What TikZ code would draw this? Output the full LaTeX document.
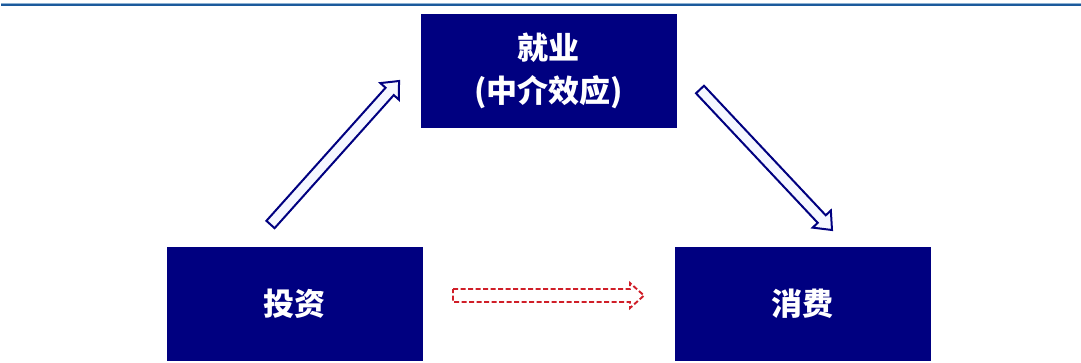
\documentclass[tikz,border=0pt]{standalone}
\usepackage{fontspec}
\newfontfamily\cjk{Noto Sans CJK SC}
\usetikzlibrary{calc}
\definecolor{navybox}{HTML}{000080}
\definecolor{arrowfill}{HTML}{F5F7FF}
\definecolor{dashred}{HTML}{D01E28}
\definecolor{topline}{HTML}{1C5A9C}
\definecolor{toplinelight}{HTML}{8DB2D4}
\newcommand\myblockarrow[6]{%
  \coordinate (hb) at ($(#3)!#6!(#2)$);
  \draw[#1] ($(#2)!#4!90:(#3)$) -- ($(hb)!#4!90:(#3)$) -- ($(hb)!#5!90:(#3)$) -- (#3)
    -- ($(hb)!#5!-90:(#3)$) -- ($(hb)!#4!-90:(#3)$) -- ($(#2)!#4!-90:(#3)$) -- cycle;
}
\begin{document}
\begin{tikzpicture}[x=1pt,y=-1pt,
  box/.style={fill=navybox, draw=none, minimum width=256pt, minimum height=114pt,
    inner sep=0pt, text=white, align=center,
    font=\cjk\bfseries\fontsize{31}{43}\selectfont},
  hollow/.style={draw=navybox, fill=arrowfill, line width=2pt, line join=miter},
  dashedarrow/.style={draw=dashred, fill=white, line width=1.9pt, dash pattern=on 5pt off 2.5pt, line join=miter}]
\useasboundingbox (0,0) rectangle (1081,362);
\fill[fill=toplinelight] (1,2.5) rectangle (1081,3.6);
\fill[fill=topline] (1,3.6) rectangle (1081,6.4);
\node[box] (job) at (548.5,71) {就业\\(中介效应)};
\node[box] (inv) at (294.5,304) {投资};
\node[box] (con) at (802.5,304) {消费};
\coordinate (a1tail) at (270.5,224.5);
\coordinate (a1tip) at (399,81);
\coordinate (a2tail) at (700,89.5);
\coordinate (a2tip) at (832,230);
\coordinate (a3tail) at (453,295.5);
\coordinate (a3tip) at (644,295.5);
\myblockarrow{hollow}{a1tail}{a1tip}{5.5pt}{12.5pt}{14pt}
\myblockarrow{hollow}{a2tail}{a2tip}{5.5pt}{12.5pt}{15pt}
\myblockarrow{dashedarrow}{a3tail}{a3tip}{6.5pt}{12.5pt}{14pt}
\end{tikzpicture}
\end{document}
